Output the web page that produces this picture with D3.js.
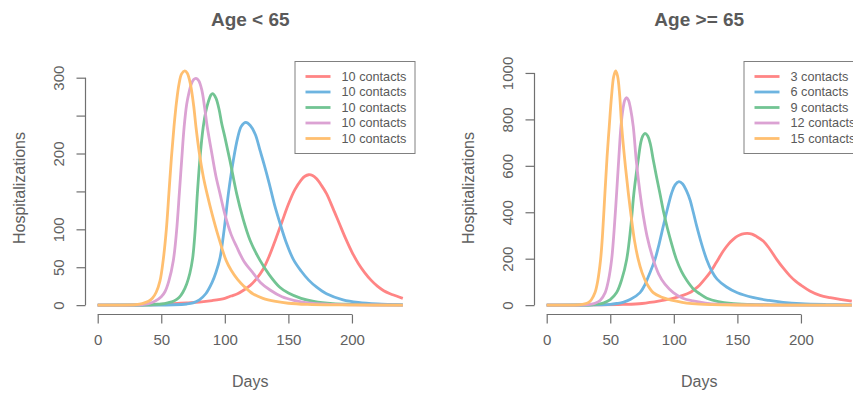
<!DOCTYPE html>
<html>
<head>
<meta charset="utf-8">
<script src="https://cdn.jsdelivr.net/npm/d3@7"></script>
<style>
  body { margin: 0; background: #fff; overflow: hidden; }
  svg { font-family: "Liberation Sans", Arial, Helvetica, sans-serif; }
</style>
</head>
<body>
<script>

// data: [day, hospitalizations]
var young_red = [[0,0],[40,0.3],[50,1],[60,2],[70,3],[80,4],[90,6],[100,9],[105,12],[110,15],[115,20],[120,26],[125,35],[130,47],[135,65],[140,87],[145,110],[150,133],[155,152],[160,165],[163,170],[166,172],[169,171],[172,167],[176,158],[180,147],[185,128],[190,108],[195,88],[200,70],[205,55],[210,43],[215,33],[220,25],[225,19],[230,15],[235,12],[240,9]];
var young_blue = [[0,0],[60,0.5],[70,1.5],[75,3],[80,7],[85,15],[90,30],[93,43],[96.2,62],[99.5,100],[102.8,147],[106.7,191],[110,220],[113,236],[116.5,241],[120,237],[124,225],[127.7,204],[131,185],[135,160],[139,133],[143.4,108],[148,84],[154,60],[160,45],[166,33],[172,24],[180,15],[193,7],[205,3.5],[220,1.5],[240,0.5]];
var young_green = [[0,0],[40,0.5],[45,1],[50,1.5],[55,3],[60,5.5],[64,10],[67,17],[70,28],[72.5,42],[74.7,62],[76.5,95],[78.4,147],[80.5,195],[83,235],[85,255],[87,268],[89,277],[90.5,279],[93,273],[95.5,258],[97.5,240],[100,222],[104,191],[109.3,147],[114,116],[120,85],[127.7,59],[135,40],[143,24],[150,16],[160,9],[170,5],[185,2],[200,1],[240,0]];
var young_purple = [[0,0],[35,0.8],[40,2],[45,5],[50,11],[53,18],[56,32],[59.5,59],[62,97],[64.2,147],[66,190],[68,235],[70,265],[71.5,278],[73.5,291],[75.5,297.5],[77.3,299],[79.5,296],[82,283],[84,262],[86.2,235],[90,198],[93,170],[96.2,147],[100,120],[105,93],[109.3,77],[115,58],[122.4,42],[128,30],[135.6,20],[145,11],[155,6],[165,3],[180,1.2],[200,0.4],[240,0]];
var young_orange = [[0,0],[30,0.8],[35,2],[40,5],[43,9],[46,17],[49,32],[51.5,59],[54,100],[56,147],[58,195],[60,235],[62,268],[64,292],[66,305],[68.5,309],[70.5,306],[73,291],[75.5,263],[77.3,235],[80,200],[83,170],[86,147],[90,120],[95,90],[101,59],[105,46],[110,34],[115,25],[122,15],[130,9],[140,5],[150,2.5],[165,1],[190,0.3],[240,0]];

var old_red = [[0,0],[40,1],[60,3],[75,7],[89,18],[100,30],[106,40],[112.7,54],[116,67],[120,85],[124,110],[128.4,140],[133,180],[138.9,233],[143,263],[146.7,283],[150,297],[153.5,306],[157.7,309],[161.5,306],[165,296],[170.3,276],[175,245],[180.9,197],[186,160],[191.3,126],[196,102],[200,86],[207,61],[215,42],[223,32],[230.6,25],[240,17]];
var old_blue = [[0,0],[40,1],[50,3.5],[55,7],[60,12],[66,25],[73.4,54],[77,85],[80.5,130],[85.2,197],[88.5,265],[91.7,340],[95,415],[98.3,483],[101,518],[104,532],[107,522],[110,492],[112.7,454],[115.3,400],[118,340],[121.5,270],[125.8,197],[130,145],[134,112],[141.5,78],[150,53],[162,33],[175,20],[186,12],[200,6],[220,2.5],[240,1]];
var old_green = [[0,0],[30,0.5],[35,1.5],[40,4],[45,10],[50,24],[55,54],[59,110],[62.9,197],[66,330],[68.6,483],[70.3,560],[72,626],[74,700],[75.5,728],[77.3,740],[79.5,728],[81.5,695],[83.8,626],[86.3,555],[89,483],[92,400],[95,330],[98.5,260],[102,197],[106,145],[110,108],[115,72],[120,50],[126,30],[135,15],[145,7],[160,3],[180,1],[240,0]];
var old_purple = [[0,0],[25,0.4],[30,1.2],[34,3],[38,8],[42,20],[46,54],[48.5,105],[51.1,197],[53,320],[55,483],[56.8,640],[58.4,769],[60,845],[61.5,884],[62.9,894],[64.4,882],[66,845],[68.1,769],[70.5,620],[73.4,483],[76,385],[79,295],[83.8,197],[88,135],[93,90],[99.6,54],[107,30],[115,18],[125,9],[135,4],[150,1.5],[170,0.5],[240,0]];
var old_orange = [[0,0],[20,0.3],[25,1.2],[30,5],[33,12],[35,22],[38,54],[40,100],[42.4,197],[44,310],[45.8,483],[47.5,640],[49.2,769],[51,900],[52.7,985],[54.2,1009],[55.7,988],[57.4,905],[59,769],[61.5,620],[64.2,483],[66.5,380],[69,280],[72,197],[75,140],[79,90],[83.8,54],[90,35],[95,26],[102,17],[110,9],[120,4],[130,2],[150,0.5],[240,0]];

var young_labels = ["10 contacts", "10 contacts", "10 contacts", "10 contacts", "10 contacts"];
var old_labels = ["3 contacts", "6 contacts", "9 contacts", "12 contacts", "15 contacts"];

var x_ticks = [0, 50, 100, 150, 200];
var young_y_ticks = [0, 50, 100, 150, 200, 250, 300];
var young_y_labels = ["0", "50", "100", "", "200", "", "300"];  // R drops overlapping labels
var old_y_ticks = [0, 200, 400, 600, 800, 1000];
var old_y_labels = ["0", "200", "400", "600", "800", "1000"];

var colors = ["#ff8585", "#6db4e0", "#72c493", "#dba2d3", "#ffbf70"];

var w = 853, h = 395;

var svg = d3.select("body").append("svg")
  .attr("width", w)
  .attr("height", h);

var panels = [
  { title: "Age < 65", series: [young_red, young_blue, young_green, young_purple, young_orange],
    labels: young_labels, yTicks: young_y_ticks, yLabels: young_y_labels, left: 85.5 },
  { title: "Age >= 65", series: [old_red, old_blue, old_green, old_purple, old_orange],
    labels: old_labels, yTicks: old_y_ticks, yLabels: old_y_labels, left: 534.5 }
];

var plotTop = 61.5, plotBottom = 314.5, plotW = 329.5;
var axisCol = "#707070", textCol = "#616161";

panels.forEach(function(p) {
  var g = svg.append("g");

  // R style 4% padding on both axes
  var ymax = d3.max(p.series, function(s) { return d3.max(s, function(d) { return d[1]; }); });
  var x = d3.scaleLinear().domain([-9.6, 249.6]).range([p.left, p.left + plotW]);
  var y = d3.scaleLinear().domain([-0.04 * ymax, 1.04 * ymax]).range([plotBottom, plotTop]);

  var line = d3.line()
    .x(function(d) { return x(d[0]); })
    .y(function(d) { return y(d[1]); })
    .curve(d3.curveCatmullRom.alpha(0.5));

  g.selectAll("path.curve")
    .data(p.series)
    .enter()
    .append("path")
    .attr("class", "curve")
    .attr("d", line)
    .attr("fill", "none")
    .attr("stroke", function(d, i) { return colors[i]; })
    .attr("stroke-width", 2.8)
    .attr("stroke-linejoin", "round");

  // x axis
  var xa = g.append("g")
    .attr("transform", "translate(0," + plotBottom + ")")
    .call(d3.axisBottom(x).tickValues(x_ticks).tickSize(9).tickSizeOuter(0).tickPadding(11));
  // y axis
  var ya = g.append("g")
    .attr("transform", "translate(" + p.left + ",0)")
    .call(d3.axisLeft(y).tickValues(p.yTicks).tickSize(9).tickSizeOuter(0)
      .tickFormat(function(d, i) { return p.yLabels[i]; }));

  [xa, ya].forEach(function(a) {
    a.attr("font-family", null).attr("font-size", null);
    a.select(".domain").attr("stroke", axisCol).attr("stroke-width", 1.2);
    a.selectAll(".tick line").attr("stroke", axisCol).attr("stroke-width", 1.2);
    a.selectAll(".tick text").attr("fill", textCol).style("font-size", "15px");
  });
  // axis lines only span the ticks, like R
  xa.select(".domain").attr("d", "M" + x(x_ticks[0]) + ",0H" + x(x_ticks[x_ticks.length - 1]));
  ya.select(".domain").attr("d", "M0," + y(p.yTicks[0]) + "V" + y(p.yTicks[p.yTicks.length - 1]));

  // vertical tick labels on the y axis
  ya.selectAll(".tick text")
    .attr("x", null).attr("dy", null)
    .attr("text-anchor", "middle")
    .attr("transform", "translate(-22,0) rotate(-90)");

  // title and axis titles
  var cx = p.left + plotW / 2;
  g.append("text")
    .attr("x", cx).attr("y", 26)
    .attr("text-anchor", "middle")
    .attr("fill", "#5a5a5a")
    .style("font-size", "19px").style("font-weight", "bold")
    .text(p.title);

  g.append("text")
    .attr("x", cx).attr("y", 387)
    .attr("text-anchor", "middle")
    .attr("fill", textCol)
    .style("font-size", "16px")
    .text("Days");

  g.append("text")
    .attr("transform", "translate(" + (p.left - 61) + "," + ((plotTop + plotBottom) / 2) + ") rotate(-90)")
    .attr("text-anchor", "middle")
    .attr("fill", textCol)
    .style("font-size", "16px")
    .text("Hospitalizations");

  // legend, top right of the plot region
  var lx = p.left + plotW - 120;
  var leg = g.append("g");
  leg.append("rect")
    .attr("x", lx).attr("y", plotTop)
    .attr("width", 120).attr("height", 92)
    .attr("fill", "#fff")
    .attr("stroke", "#808080")
    .attr("stroke-width", 1);

  var rows = leg.selectAll("g.row")
    .data(p.labels)
    .enter()
    .append("g")
    .attr("class", "row")
    .attr("transform", function(d, i) { return "translate(" + lx + "," + (plotTop + 15 + i * 15.5) + ")"; });
  rows.append("line")
    .attr("x1", 10.5).attr("x2", 35.5)
    .attr("stroke", function(d, i) { return colors[i]; })
    .attr("stroke-width", 2.8);
  rows.append("text")
    .attr("x", 46.5).attr("dy", "0.35em")
    .attr("fill", "#5a5a5a")
    .style("font-size", "12.7px")
    .text(function(d) { return d; });
});

</script>
</body>
</html>
